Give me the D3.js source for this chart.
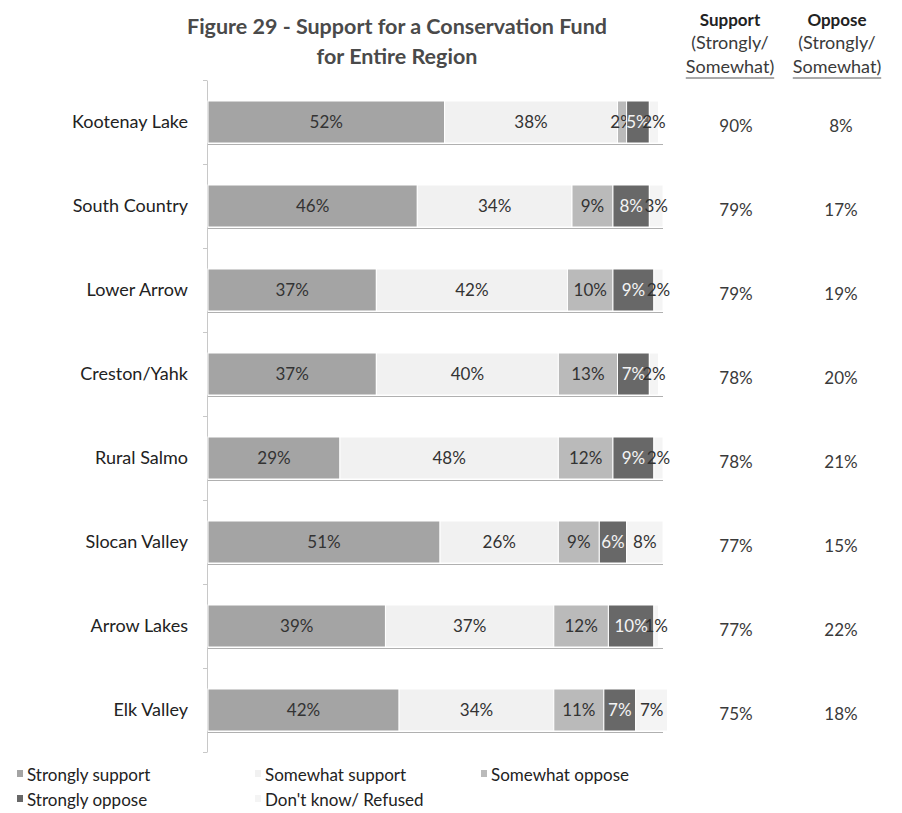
<!DOCTYPE html>
<html>
<head>
<meta charset="utf-8">
<script src="https://cdn.jsdelivr.net/npm/d3@7"></script>
<style>
  body { margin: 0; background: #fff; }
  text { font-family: Lato, "Open Sans", sans-serif; fill: #3a3a3a; }
</style>
</head>
<body>
<div id="chart"></div>
<script>
// chart data
var regions = ['Kootenay Lake','South Country','Lower Arrow','Creston/Yahk',
               'Rural Salmo','Slocan Valley','Arrow Lakes','Elk Valley'];
var seriesNames = ['Strongly support','Somewhat support','Somewhat oppose','Strongly oppose',"Don't know/ Refused"];
var stronglySupport = [52, 46, 37, 37, 29, 51, 39, 42];
var somewhatSupport = [38, 34, 42, 40, 48, 26, 37, 34];
var somewhatOppose  = [2, 9, 10, 13, 12, 9, 12, 11];
var stronglyOppose  = [5, 8, 9, 7, 9, 6, 10, 7];
var dontKnow        = [2, 3, 2, 2, 2, 8, 1, 7];
var supportTotal = [90, 79, 79, 78, 78, 77, 77, 75];
var opposeTotal  = [8, 17, 19, 20, 21, 15, 22, 18];

var colors = ['#a4a4a4', '#f1f1f1', '#bababa', '#686868', '#f4f4f4'];
var labelColors = ['#333', '#333', '#333', '#f4f4f4', '#333'];

var width = 902, height = 813;

var svg = d3.select("#chart")
  .append("svg")
    .attr("width", width)
    .attr("height", height);

// scales
var x = d3.scaleLinear().domain([0, 100]).range([208, 663]);
var y = d3.scaleBand()
  .domain(regions)
  .range([80, 752])
  .paddingInner(0.5)
  .paddingOuter(0.25);

var rows = regions.map(function(r, i) {
  return {region: r, values: [stronglySupport[i], somewhatSupport[i], somewhatOppose[i], stronglyOppose[i], dontKnow[i]]};
});

// title
svg.append("text")
  .attr("x", 397).attr("y", 34)
  .attr("text-anchor", "middle")
  .style("font-size", "21.5px").style("font-weight", "bold").style("fill", "#4a4a4a")
  .text("Figure 29 - Support for a Conservation Fund");
svg.append("text")
  .attr("x", 397).attr("y", 64)
  .attr("text-anchor", "middle")
  .style("font-size", "21.5px").style("font-weight", "bold").style("fill", "#4a4a4a")
  .text("for Entire Region");

// column headers
var headers = [{x: 730, title: "Support"}, {x: 837, title: "Oppose"}];
headers.forEach(function(h) {
  svg.append("text").attr("x", h.x).attr("y", 26).attr("text-anchor", "middle")
    .style("font-size", "17px").style("font-weight", "bold").style("fill", "#222").text(h.title);
  svg.append("text").attr("x", h.x).attr("y", 49).attr("text-anchor", "middle")
    .style("font-size", "18px").text("(Strongly/");
  var t = svg.append("text").attr("x", h.x).attr("y", 73).attr("text-anchor", "middle")
    .style("font-size", "18px").text("Somewhat)");
  var w = t.node().getComputedTextLength();
  svg.append("line")
    .attr("x1", h.x - w / 2).attr("x2", h.x + w / 2)
    .attr("y1", 78).attr("y2", 78)
    .style("stroke", "#555").style("stroke-width", 1);
});

// y axis with ticks between the categories
var tickPos = d3.range(regions.length + 1).map(function(i) { return 80 + i * y.step(); });
var axisScale = d3.scaleLinear().domain([80, 752]).range([80, 752]);
var yAxis = svg.append("g")
  .attr("transform", "translate(207,0)")
  .call(d3.axisLeft(axisScale).tickValues(tickPos).tickFormat("").tickSize(4).tickSizeOuter(0));
yAxis.selectAll("path, line").style("stroke", "#c8c8c8");

// category labels
svg.selectAll(".cat")
  .data(regions)
  .enter().append("text")
    .attr("class", "cat")
    .attr("x", 188)
    .attr("y", function(d) { return y(d) + y.bandwidth() / 2 + 6; })
    .attr("text-anchor", "end")
    .style("font-size", "18px")
    .style("fill", "#222")
    .text(function(d) { return d; });

// bar shadow lines
svg.selectAll(".base")
  .data(rows)
  .enter().append("line")
    .attr("x1", x(0)).attr("x2", x(100))
    .attr("y1", function(d) { return y(d.region) + y.bandwidth() + 1.5; })
    .attr("y2", function(d) { return y(d.region) + y.bandwidth() + 1.5; })
    .style("stroke", "#b0b0b0").style("stroke-width", 1.2);

// bars
var rowG = svg.selectAll(".row")
  .data(rows)
  .enter().append("g")
    .attr("class", "row");

rowG.each(function(d) {
  var g = d3.select(this);
  var cum = 0;
  d.values.forEach(function(v, k) {
    var x0 = x(cum), x1 = x(cum + v);
    cum += v;
    g.append("rect")
      .attr("x", x0)
      .attr("y", y(d.region))
      .attr("width", x1 - x0)
      .attr("height", y.bandwidth())
      .style("fill", colors[k])
      .style("stroke", "#fff")
      .style("stroke-width", 1);
    g.append("text")
      .attr("x", (x0 + x1) / 2)
      .attr("y", y(d.region) + y.bandwidth() / 2 + 6)
      .attr("text-anchor", "middle")
      .style("font-size", "17px")
      .style("fill", labelColors[k])
      .text(v + "%");
  });
});

// totals columns
svg.selectAll(".sup")
  .data(supportTotal)
  .enter().append("text")
    .attr("x", 736)
    .attr("y", function(d, i) { return y(regions[i]) + y.bandwidth() / 2 + 10; })
    .attr("text-anchor", "middle")
    .style("font-size", "17px")
    .text(function(d) { return d + "%"; });
svg.selectAll(".opp")
  .data(opposeTotal)
  .enter().append("text")
    .attr("x", 841)
    .attr("y", function(d, i) { return y(regions[i]) + y.bandwidth() / 2 + 10; })
    .attr("text-anchor", "middle")
    .style("font-size", "17px")
    .text(function(d) { return d + "%"; });

// legend
var legendPos = [{x: 17, y: 781}, {x: 255, y: 781}, {x: 481, y: 781}, {x: 17, y: 806}, {x: 255, y: 806}];
var legend = svg.selectAll(".leg")
  .data(seriesNames)
  .enter().append("g")
    .attr("transform", function(d, i) { return "translate(" + legendPos[i].x + "," + legendPos[i].y + ")"; });
legend.append("rect")
  .attr("x", 0).attr("y", -11)
  .attr("width", 6).attr("height", 7)
  .style("fill", function(d, i) { return colors[i]; });
legend.append("text")
  .attr("x", 10).attr("y", 0)
  .style("font-size", "17px")
  .style("fill", "#222")
  .text(function(d) { return d; });
</script>
</body>
</html>
